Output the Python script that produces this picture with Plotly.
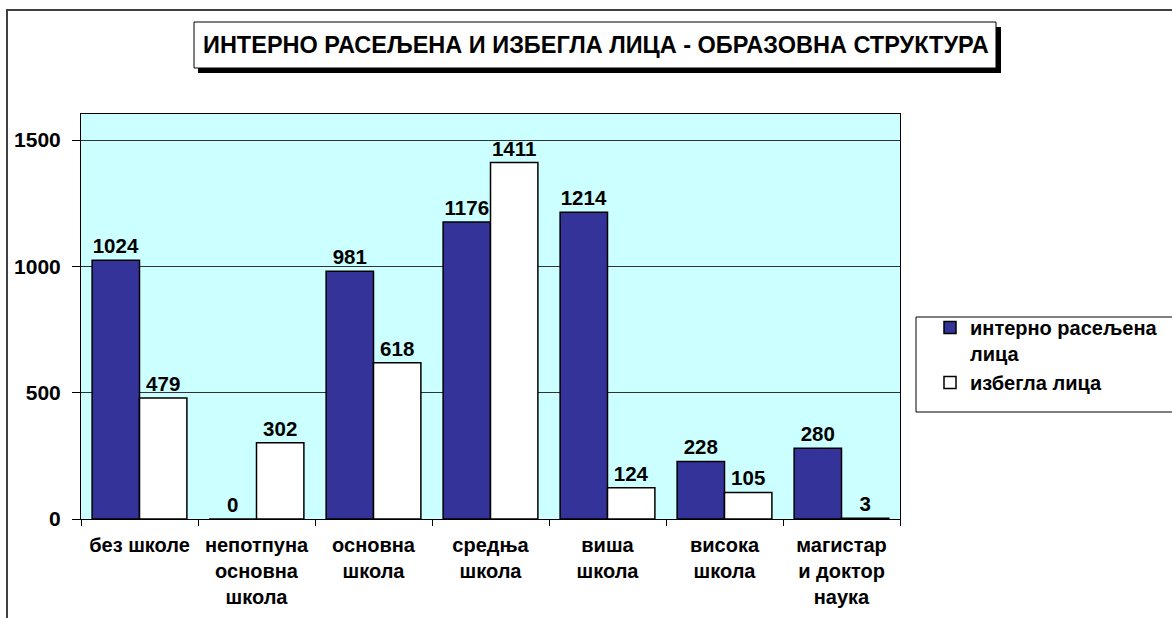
import plotly.graph_objects as go

categories = ["без школе", "непотпуна<br>основна<br>школа", "основна<br>школа",
              "средња<br>школа", "виша<br>школа", "висока<br>школа",
              "магистар<br>и доктор<br>наука"]
idp_values = [1024, 0, 981, 1176, 1214, 228, 280]
refugee_values = [479, 302, 618, 1411, 124, 105, 3]
series_names = ["интерно расељена<br>лица", "избегла лица"]
y_ticks = [0, 500, 1000, 1500]
title_text = "ИНТЕРНО РАСЕЉЕНА И ИЗБЕГЛА ЛИЦА - ОБРАЗОВНА СТРУКТУРА"

W, H = 1172, 618
L, R, T, B = 81, 900, 114, 519
FONT = "Liberation Sans, Arial, sans-serif"


def px(x):
    return (x - L) / (R - L)


def py(y):
    return (B - y) / (B - T)


fig = go.Figure()
fig.add_trace(go.Bar(
    x=categories, y=idp_values, name=series_names[0],
    marker=dict(color="#333399", line=dict(color="black", width=1.5)),
    text=[str(v) for v in idp_values], textposition="outside",
    constraintext="none", cliponaxis=False,
    textfont=dict(family=FONT, size=20.5, color="black", weight="bold"),
))
fig.add_trace(go.Bar(
    x=categories, y=refugee_values, name=series_names[1],
    marker=dict(color="white", line=dict(color="black", width=1.5)),
    text=[str(v) for v in refugee_values], textposition="outside",
    constraintext="none", cliponaxis=False,
    textfont=dict(family=FONT, size=20.5, color="black", weight="bold"),
))

shapes = [
    # outer frame (top and left edges) as thin filled strips
    dict(type="rect", xref="paper", yref="paper", x0=px(6), x1=px(1172),
         y0=py(11), y1=py(9), line=dict(width=0), fillcolor="#404040", layer="above"),
    dict(type="rect", xref="paper", yref="paper", x0=px(6), x1=px(8),
         y0=py(618), y1=py(9), line=dict(width=0), fillcolor="#404040", layer="above"),
    # title shadow
    dict(type="rect", xref="paper", yref="paper", x0=px(198), x1=px(1001),
         y0=py(73), y1=py(27), line=dict(width=0), fillcolor="black", layer="above"),
    # title box
    dict(type="rect", xref="paper", yref="paper", x0=px(194), x1=px(996),
         y0=py(68), y1=py(22), line=dict(color="black", width=1),
         fillcolor="white", layer="above"),
    # legend box
    dict(type="rect", xref="paper", yref="paper", x0=px(916), x1=px(1180),
         y0=py(412), y1=py(317), line=dict(color="black", width=1),
         fillcolor="white", layer="above"),
]

fig.update_layout(
    width=W, height=H, autosize=False,
    margin=dict(l=L, r=W - R, t=T, b=H - B, pad=0, autoexpand=False),
    paper_bgcolor="white", plot_bgcolor="#CCFFFF",
    barmode="group", bargap=0.19, bargroupgap=0,
    font=dict(family=FONT, color="black"),
    shapes=shapes,
    annotations=[dict(
        text=title_text, xref="paper", yref="paper",
        x=px(596), y=py(45), xanchor="center", yanchor="middle",
        showarrow=False, font=dict(family=FONT, size=23.5, color="black", weight="bold"),
    )],
    legend=dict(
        x=px(930), y=py(308), xanchor="left", yanchor="top",
        bgcolor="rgba(0,0,0,0)", borderwidth=0, valign="top",
        font=dict(family=FONT, size=20, color="black", weight="bold"),
        tracegroupgap=0,
    ),
    xaxis=dict(
        showline=True, linecolor="black", linewidth=1, mirror=True,
        ticks="outside", tickson="boundaries", ticklen=6, tickcolor="black",
        tickfont=dict(family=FONT, size=20, color="black", weight="bold"),
        ticklabelstandoff=8,
        showgrid=False,
    ),
    yaxis=dict(
        range=[0, 1603], tickvals=y_ticks, ticktext=[str(v) for v in y_ticks],
        showline=True, linecolor="black", linewidth=1, mirror=True,
        ticks="outside", ticklen=8, tickcolor="black",
        tickfont=dict(family=FONT, size=21, color="black", weight="bold"),
        ticklabelstandoff=7,
        showgrid=True, gridcolor="#333333", gridwidth=1, zeroline=False,
    ),
)

fig.write_html("out.html", config={"displayModeBar": False},
               post_script="document.body.style.margin='0px';document.body.style.overflow='hidden';")
